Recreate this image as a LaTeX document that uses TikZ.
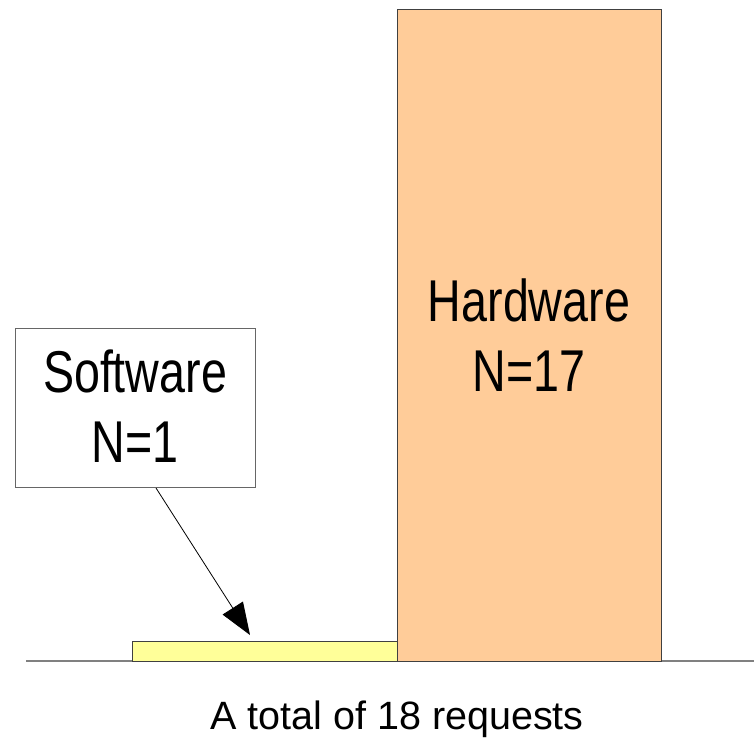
\documentclass[tikz,border=0pt]{standalone}
\usepackage{fontspec}
\setmainfont{Liberation Sans}
\newfontfamily\condfont[FakeStretch=0.79]{Liberation Sans}
\usetikzlibrary{arrows.meta}
\definecolor{hwfill}{HTML}{FFCC99}
\definecolor{swfill}{HTML}{FFFF99}
\definecolor{edgegray}{HTML}{404040}
\definecolor{basegray}{HTML}{808080}
\tikzset{
  bar/.style={draw=edgegray, line width=1pt},
  bigtext/.style={font=\condfont\fontsize{59}{70}\selectfont, align=center, anchor=base, inner sep=0pt},
  captiontext/.style={font=\fontsize{39.5}{45}\selectfont, anchor=base, inner sep=0pt},
}
\begin{document}
\begin{tikzpicture}[x=1pt,y=-1pt]
\useasboundingbox[fill=white] (0,0) rectangle (754,747);
% baseline
\draw[basegray, line width=1.5pt] (26,661) coordinate (bl) -- (754,661) coordinate (br);
% bars
\draw[bar, fill=swfill] (132,641) rectangle (397,661);
\draw[bar, fill=hwfill] (397,9) rectangle (661,661);
% hardware label
\node[bigtext] (hw) at (529,321) {Hardware};
\node[bigtext] (hwn) at (529,391) {N=17};
% software callout
\node[draw=edgegray!80, line width=1pt, fill=white, minimum width=240pt, minimum height=159pt, inner sep=0pt] (swbox) at (135,407.5) {};
\node[bigtext] (sw) at (135,392) {Software};
\node[bigtext] (swn) at (135,462) {N=1};
% arrow
\coordinate (astart) at (156,488);
\coordinate (atip) at (250,635);
\draw[line width=0.8pt, -{Triangle[length=32pt, width=24pt]}] (astart) -- (atip);
% caption
\node[captiontext] (cap) at (397,729) {A total of 18 requests};
\end{tikzpicture}
\end{document}
